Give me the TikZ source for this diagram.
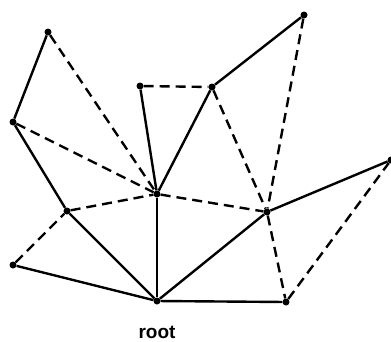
\documentclass[tikz,border=0pt]{standalone}
\usepackage{fontspec}
\setmainfont{Liberation Sans}
\begin{document}
\begin{tikzpicture}[x=1pt,y=-1pt,
  vtx/.style={circle,fill=black,inner sep=0pt,minimum size=7pt},
  tree/.style={line width=2.4pt},
  nontree/.style={line width=2.4pt,dash pattern=on 10pt off 6pt},
  lbl/.style={font=\bfseries\fontsize{19}{21}\selectfont}]
\useasboundingbox (0,0) rectangle (391,341);
% vertices
\node[vtx] (a) at (48,32) {};
\node[vtx] (b) at (13,122) {};
\node[vtx] (c) at (67,211) {};
\node[vtx] (d) at (13,265) {};
\node[vtx] (r) at (157,301) {};
\node[vtx] (e) at (157,194) {};
\node[vtx] (f) at (140,86) {};
\node[vtx] (g) at (212,87) {};
\node[vtx] (h) at (304,15) {};
\node[vtx] (i) at (267,212) {};
\node[vtx] (j) at (391,160) {};
\node[vtx] (k) at (286,302) {};
\node[lbl] (rootlbl) at (157,332) {root};
% tree edges
\draw[tree] (a) -- (b);
\draw[tree] (b) -- (c);
\draw[tree] (c) -- (r);
\draw[tree] (d) -- (r);
\draw[tree] (e) -- (r);
\draw[tree] (f) -- (e);
\draw[tree] (g) -- (e);
\draw[tree] (g) -- (h);
\draw[tree] (r) -- (i);
\draw[tree] (i) -- (j);
\draw[tree] (r) -- (k);
% non-tree edges
\draw[nontree] (a) -- (e);
\draw[nontree] (b) -- (e);
\draw[nontree] (c) -- (e);
\draw[nontree] (d) -- (c);
\draw[nontree] (f) -- (g);
\draw[nontree] (h) -- (i);
\draw[nontree] (g) -- (i);
\draw[nontree] (e) -- (i);
\draw[nontree] (i) -- (k);
\draw[nontree] (k) -- (j);
\end{tikzpicture}
\end{document}
